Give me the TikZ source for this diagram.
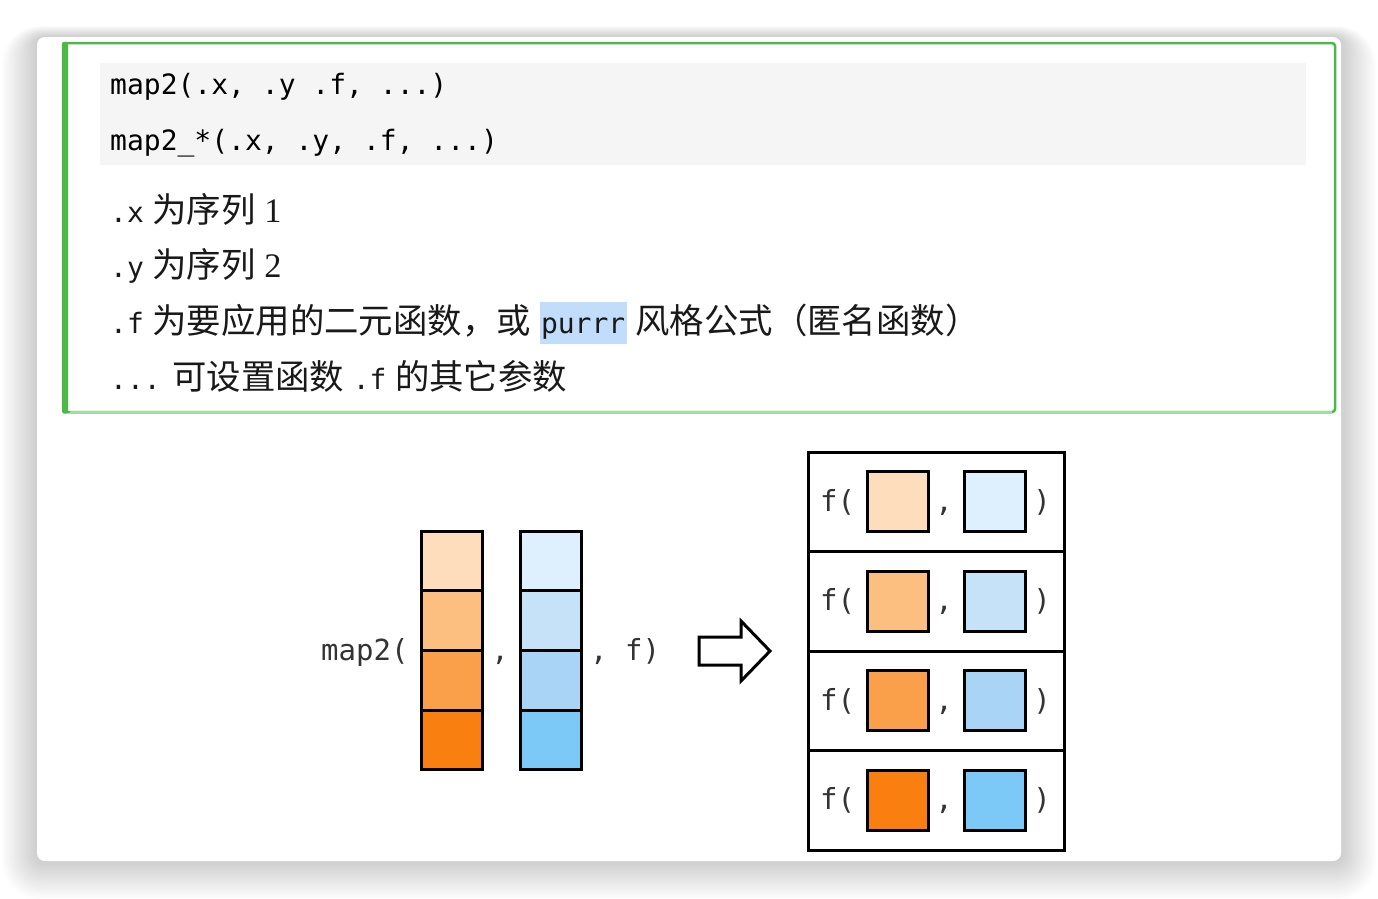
\documentclass[tikz,border=0pt]{standalone}
\usepackage{fontspec}
\setmainfont{Liberation Serif}
\setmonofont{DejaVu Sans Mono}
\newfontfamily\cjk{Noto Sans CJK SC}
\usetikzlibrary{positioning}
\definecolor{cardgreen}{HTML}{4DB848}
\definecolor{lightgreen}{HTML}{A3DCA0}
\definecolor{codegray}{HTML}{F5F5F5}
\definecolor{hlblue}{HTML}{C2DDFB}
\definecolor{ink}{HTML}{333333}
\definecolor{orA}{HTML}{FDDDBB}
\definecolor{orB}{HTML}{FDBF80}
\definecolor{orC}{HTML}{FBA04A}
\definecolor{orD}{HTML}{F98010}
\definecolor{blA}{HTML}{DEEFFD}
\definecolor{blB}{HTML}{C5E2F9}
\definecolor{blC}{HTML}{A9D4F5}
\definecolor{blD}{HTML}{7CC9F7}
\newcommand{\codetxt}[1]{{\fontsize{28}{30}\selectfont\ttfamily #1}}
\tikzset{
  cell/.style={draw=black,line width=3pt,minimum width=61pt,minimum height=59.7pt,inner sep=0pt},
  rowbox/.style={draw=black,line width=3pt,minimum width=256pt,minimum height=99.5pt,inner sep=0pt},
  code/.style={anchor=base west,inner sep=0pt,font=\fontsize{28}{30}\selectfont\ttfamily,text=black},
  prose/.style={anchor=base west,inner sep=0pt,font=\fontsize{34.4}{37}\selectfont,text=black!90},
  lbl/.style={inner sep=0pt,font=\fontsize{29}{30}\selectfont\ttfamily,text=ink}
}
\begin{document}
\begin{tikzpicture}[x=1pt,y=-1pt]
\useasboundingbox (0,0) rectangle (1378,898);
\foreach \i in {1,...,16}
\fill[black,opacity=0.011,rounded corners=8+2*\i] ({37-2.2*\i},{37-0.7*\i}) rectangle ({1341+2.2*\i},{861+2.4*\i});
\fill[white,rounded corners=8] (37,37) rectangle (1341,861);
%%%%
\draw[cardgreen,line width=2.5pt,rounded corners=3,fill=white] (63,43) rectangle (1335,412);
\draw[lightgreen,line width=3pt] (70,412) -- (1332,412);
\fill[cardgreen,rounded corners=2] (62,41.8) rectangle (68,413.5);
\fill[codegray] (100,63) rectangle (1306,165);
\node[code] (code1) at (110,94) {map2(.x, .y .f, ...)};
\node[code] (code2) at (110,150) {map2\_*(.x, .y, .f, ...)};
\node[prose] (lx) at (110,222) {\codetxt{.x} {\cjk 为序列} 1};
\node[prose] (ly) at (110,277) {\codetxt{.y} {\cjk 为序列} 2};
\node[prose] (lf) at (110,333) {\codetxt{.f} {\cjk 为要应用的二元函数，或} {\setlength{\fboxsep}{1.5pt}\colorbox{hlblue}{\rule[-9.5pt]{0pt}{39pt}\codetxt{purrr}}} {\cjk 风格公式（匿名函数）}};
\node[prose] (ldots) at (110,389) {\codetxt{...} {\cjk 可设置函数} \codetxt{.f} {\cjk 的其它参数}};
%%%%
\node[lbl,anchor=base west] (call) at (321,660) {map2(};
\foreach \c [count=\i from 0] in {orA,orB,orC,orD}
\node[cell,fill=\c] (x\i) at (452,{561+59.7*\i}) {};
\node[lbl,anchor=base] (sep) at (500,660) {,};
\foreach \c [count=\i from 0] in {blA,blB,blC,blD}
\node[cell,fill=\c] (y\i) at (550.5,{561+59.7*\i}) {};
\node[lbl,anchor=base west] (fn) at (590,660) {, f)};
\draw[line width=3pt,line join=miter,fill=white] (699,637) -- (741,637) -- (741,621) -- (770,651)
  -- (741,681) -- (741,665) -- (699,665) -- cycle;
%%%%
\foreach \c/\d [count=\i from 0] in {orA/blA,orB/blB,orC/blC,orD/blD}{
\node[rowbox] (r\i) at (936,{501.75+99.5*\i}) {};
\node[lbl,anchor=base west] (f\i) at (820,{511+99.5*\i}) {f(};
\node[cell,minimum height=60pt,fill=\c] (a\i) at (898,{501.75+99.5*\i}) {};
\node[lbl,anchor=base] (c\i) at (944,{511+99.5*\i}) {,};
\node[cell,minimum height=60pt,fill=\d] (b\i) at (995,{501.75+99.5*\i}) {};
\node[lbl,anchor=base] (e\i) at (1042,{511+99.5*\i}) {)};
}
\end{tikzpicture}
\end{document}
